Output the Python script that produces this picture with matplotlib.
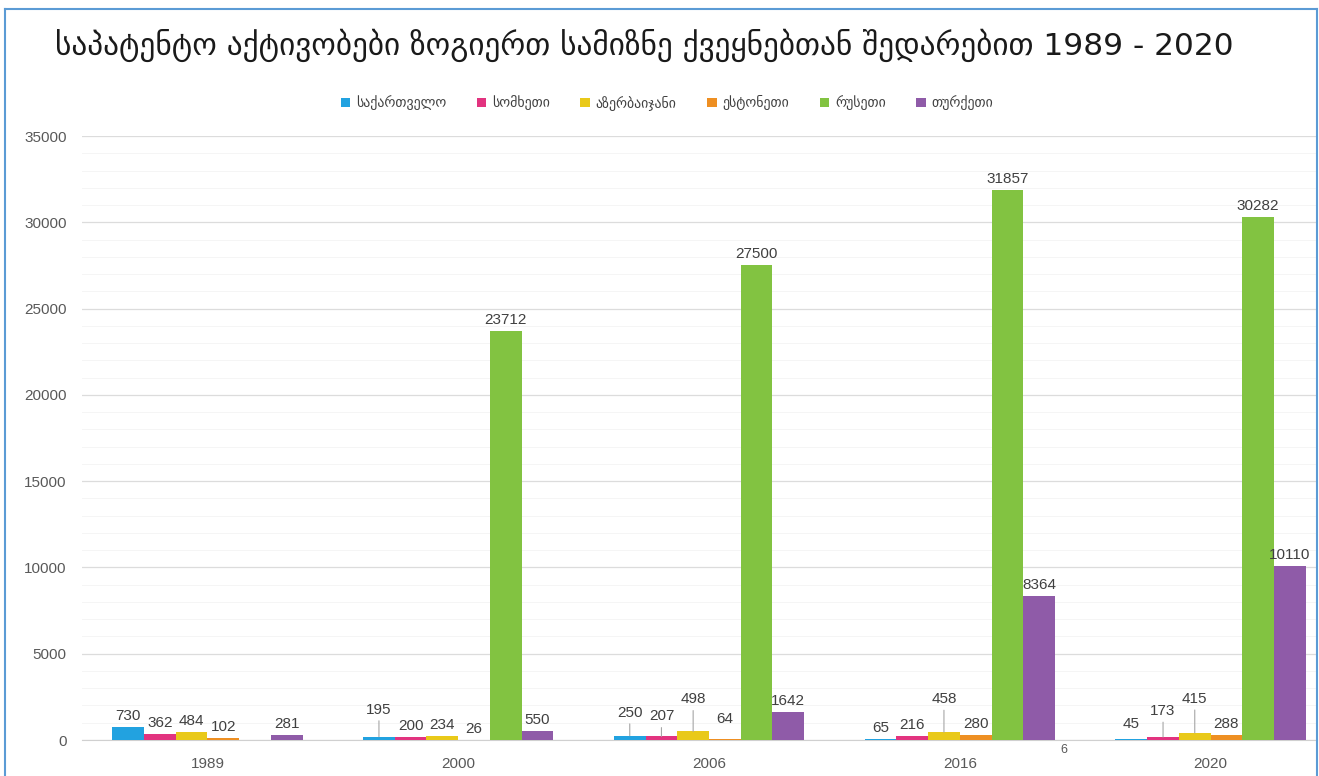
import matplotlib
matplotlib.use("Agg")
import matplotlib.pyplot as plt
from matplotlib.lines import Line2D
import numpy as np

# data
years = ["1989", "2000", "2006", "2016", "2020"]
countries = ["საქართველო", "სომხეთი", "აზერბაიჯანი", "ესტონეთი", "რუსეთი", "თურქეთი"]
georgia = [730, 195, 250, 65, 45]
armenia = [362, 200, 207, 216, 173]
azerbaijan = [484, 234, 498, 458, 415]
estonia = [102, 26, 64, 280, 288]
russia = [np.nan, 23712, 27500, 31857, 30282]
turkey = [281, 550, 1642, 8364, 10110]
series = [georgia, armenia, azerbaijan, estonia, russia, turkey]
colors = ["#22a2e0", "#e2337f", "#e9c919", "#ee8f22", "#82c341", "#8f5ba8"]

title = "საპატენტო აქტივობები ზოგიერთ სამიზნე ქვეყნებთან შედარებით 1989 - 2020"

# labels that sit higher with a leader line: (series, year) -> extra pixels
lift = {(0, 1): 16, (0, 2): 12, (1, 2): 9, (2, 2): 21, (3, 2): 9,
        (2, 3): 22, (1, 4): 15, (2, 4): 23, (0, 4): 4}
leader = {(0, 1), (0, 2), (1, 2), (2, 2), (2, 3), (1, 4), (2, 4)}

W, H = 1319, 776
fig = plt.figure(figsize=(W / 100, H / 100), dpi=100)
ax = fig.add_axes([82 / W, 1 - 740 / H, (1317 - 82) / W, (740 - 136) / H])

lab_font = ["Liberation Sans Narrow", "Liberation Sans", "DejaVu Sans"]
x = np.arange(len(years))
w = 0.1264
handles = []
for i, (vals, c) in enumerate(zip(series, colors)):
    pos = x + (i - 2.5) * w
    b = ax.bar(pos, vals, width=w, color=c, zorder=3)
    handles.append(b)
    for j, v in enumerate(vals):
        if np.isnan(v):
            continue
        extra = lift.get((i, j), 0)
        kw = {}
        if (i, j) in leader:
            kw["arrowprops"] = dict(arrowstyle="-", color="#a6a6a6", lw=0.8,
                                    shrinkA=1, shrinkB=0)
        ax.annotate(f"{int(v)}", xy=(pos[j], v), xytext=(0, 4 + extra),
                    textcoords="offset pixels", ha="center", va="bottom",
                    fontsize=11, color="#404040", family=lab_font, zorder=4, **kw)

# stray label under the axis in the original
ax.annotate("6", xy=(3.415, 0), xytext=(0, -4), textcoords="offset pixels",
            ha="center", va="top", fontsize=9, color="#595959",
            family=lab_font, annotation_clip=False)

ax.set_xlim(-0.5, -0.5 + (1317 - 82) / 250.8)
ax.set_ylim(0, 35000)
ax.set_yticks(np.arange(0, 35001, 5000))
ax.set_yticks(np.arange(0, 35001, 1000), minor=True)
ax.set_xticks(x)
ax.set_xticklabels(years)
ax.grid(axis="y", which="major", color="#dcdcdc", lw=0.9, zorder=0)
ax.grid(axis="y", which="minor", color="#f5f5f5", lw=0.7, zorder=0)
ax.tick_params(axis="both", which="both", length=0, colors="#595959", labelsize=11)
ax.tick_params(axis="y", pad=11)
ax.tick_params(axis="x", pad=12)
for lbl in ax.get_xticklabels() + ax.get_yticklabels():
    lbl.set_family(lab_font)
for s in ["top", "right", "left"]:
    ax.spines[s].set_visible(False)
ax.spines["bottom"].set_color("#d0d0d0")

fig.text(55 / W, 1 - 45 / H, title, fontsize=22.5, color="#1a1a1a",
         family="DejaVu Sans", va="center", ha="left")

fig.legend(handles, countries, loc="center", ncol=6, frameon=False,
           bbox_to_anchor=(667 / W, 1 - 103 / H), fontsize=10,
           handlelength=0.7, handleheight=0.7, handletextpad=0.4,
           columnspacing=2.2, labelcolor="#404040")

# thin blue frame of the original picture
for xs, ys in [([5, 5], [9, H]), ([5, 1317], [9, 9]), ([1317, 1317], [9, H])]:
    fig.add_artist(Line2D([a / W for a in xs], [1 - b / H for b in ys],
                          color="#5b9bd5", lw=1.5))

fig.savefig("out.png", dpi=100)
